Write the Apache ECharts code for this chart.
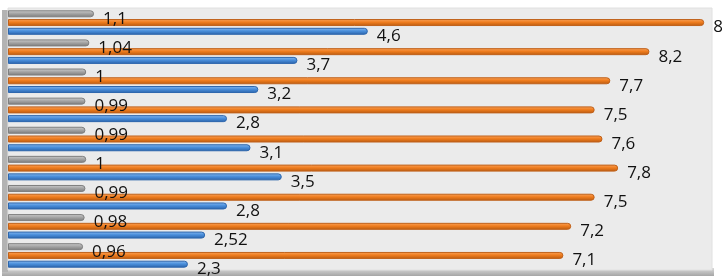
<!DOCTYPE html>
<html>
<head>
<meta charset="utf-8">
<script src="https://cdn.jsdelivr.net/npm/echarts@6/dist/echarts.min.js"></script>
<style>
  html, body { margin: 0; padding: 0; background: #fff; }
  #chart { width: 722px; height: 280px; }
</style>
</head>
<body>
<div id="chart"></div>
<script>
// 9 groups, listed top to bottom
const categories = ['1', '2', '3', '4', '5', '6', '7', '8', '9'];
const grayValues = [1.1, 1.04, 1, 0.99, 0.99, 1, 0.99, 0.98, 0.96];
const orangeValues = [8.9, 8.2, 7.7, 7.5, 7.6, 7.8, 7.5, 7.2, 7.1];
const blueValues = [4.6, 3.7, 3.2, 2.8, 3.1, 3.5, 2.8, 2.52, 2.3];

const fmt = p => String(p.value).replace('.', ',');

function tube(light, mid, dark) {
    return new echarts.graphic.LinearGradient(0, 0, 0, 1, [
        { offset: 0, color: light },
        { offset: 0.45, color: mid },
        { offset: 1, color: dark }
    ]);
}

function barSeries(name, data, colors, border) {
    return {
        name: name,
        type: 'bar',
        data: data,
        barWidth: 7,
        barGap: '25%',
        itemStyle: {
            color: tube(colors[0], colors[1], colors[2]),
            borderColor: border,
            borderWidth: 1,
            borderRadius: [0, 3, 3, 0]
        },
        label: {
            show: true,
            position: 'right',
            distance: 9,
            offset: [0, 5],
            formatter: fmt,
            fontFamily: 'Open Sans',
            fontSize: 17,
            color: '#111'
        }
    };
}

const myChart = echarts.init(document.getElementById('chart'));

myChart.setOption({
    animation: false,
    graphic: [
        {
            type: 'rect',
            shape: { x: 2, y: 268, width: 712, height: 8 },
            style: {
                fill: new echarts.graphic.LinearGradient(0, 0, 0, 1, [
                    { offset: 0, color: '#d9d9d9' },
                    { offset: 1, color: '#a6a6a6' }
                ])
            },
            z: -1
        },
        {
            type: 'rect',
            shape: { x: 2, y: 10, width: 6, height: 262 },
            style: { fill: '#b3b3b3' },
            z: -1
        }
    ],
    grid: {
        left: 8,
        right: 10,
        top: 8,
        bottom: 10,
        show: true,
        backgroundColor: '#ebebeb',
        borderColor: '#e0e0e0',
        borderWidth: 1
    },
    xAxis: {
        type: 'value',
        min: 0,
        max: 9,
        axisLabel: { show: false },
        axisLine: { show: false },
        axisTick: { show: false },
        splitLine: { show: false }
    },
    yAxis: {
        type: 'category',
        data: categories,
        inverse: true,
        axisLabel: { show: false },
        axisTick: { show: false },
        axisLine: { show: false }
    },
    series: [
        barSeries('gray', grayValues, ['#d0d0d0', '#a6a6a6', '#7a7a7a'], '#7f7f7f'),
        barSeries('orange', orangeValues, ['#f9a45e', '#f07d1e', '#b85a10'], '#c0611a'),
        barSeries('blue', blueValues, ['#8cbcf0', '#4a8fdc', '#2a62a8'], '#2d66ad')
    ]
});
</script>
</body>
</html>
